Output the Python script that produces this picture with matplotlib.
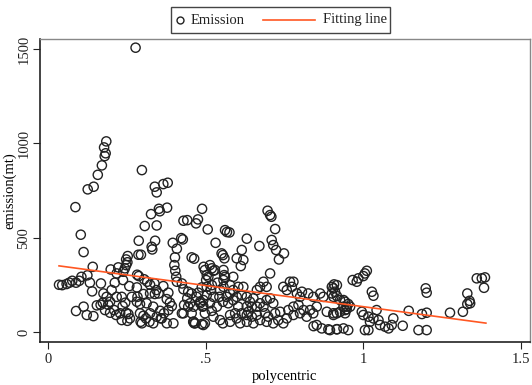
"""
Scatter of emission against polycentric index with fitted line (Stata look).
"""

import numpy as np
import matplotlib.pyplot as plt
from matplotlib.patches import Rectangle
from matplotlib.lines import Line2D

# ---- data ----
polycentric = [
    0.277, 0.184, 0.177, 0.182, 0.179, 0.170, 0.157, 0.144, 0.125, 0.297,
    0.338, 0.365, 0.379, 0.344, 0.086, 0.326, 0.351, 0.354, 0.377, 0.488,
    0.429, 0.441, 0.475, 0.469, 0.506, 0.306, 0.344, 0.103, 0.287, 0.339,
    0.328, 0.330, 0.395, 0.408, 0.422, 0.427, 0.112, 0.286, 0.294, 0.252,
    0.247, 0.251, 0.247, 0.243, 0.238, 0.402, 0.400, 0.403, 0.406, 0.408,
    0.455, 0.463, 0.141, 0.124, 0.105, 0.098, 0.088, 0.076, 0.067, 0.058,
    0.044, 0.034, 0.132, 0.139, 0.167, 0.198, 0.222, 0.217, 0.211, 0.237,
    0.257, 0.281, 0.282, 0.287, 0.304, 0.314, 0.323, 0.337, 0.343, 0.323,
    0.302, 0.283, 0.338, 0.350, 0.233, 0.244, 0.236, 0.365, 0.381, 0.376,
    0.386, 0.392, 0.381, 0.367, 0.360, 0.376, 0.397, 0.424, 0.444, 0.471,
    0.482, 0.492, 0.503, 0.490, 0.460, 0.463, 0.492, 0.088, 0.112, 0.122,
    0.143, 0.154, 0.166, 0.173, 0.190, 0.180, 0.196, 0.209, 0.215, 0.228,
    0.233, 0.247, 0.254, 0.259, 0.251, 0.291, 0.291, 0.302, 0.293, 0.297,
    0.310, 0.323, 0.321, 0.333, 0.344, 0.355, 0.357,
    0.696, 0.704, 0.708, 0.561, 0.575, 0.567, 0.531, 0.630, 0.720, 0.709,
    0.714, 0.723, 0.732, 0.748, 0.670, 0.614, 0.598, 0.619, 0.611, 0.550,
    0.559, 0.554, 0.493, 0.497, 0.503, 0.513, 0.519, 0.524, 0.529, 0.501,
    0.508, 0.556, 0.558, 0.556, 0.561, 0.587, 0.503, 0.516, 0.524, 0.513,
    0.519, 0.535, 0.524, 0.492, 0.497, 0.545, 0.556, 0.577, 0.587, 0.603,
    0.619, 0.614, 0.598, 0.577, 0.566, 0.630, 0.640, 0.651, 0.630, 0.646,
    0.635, 0.662, 0.672, 0.683, 0.693, 0.704, 0.714, 0.662, 0.672, 0.683,
    0.693, 0.704, 0.746, 0.757, 0.767, 0.778, 0.773, 0.789, 0.799, 0.805,
    0.825, 0.841, 0.852, 0.831, 0.841, 0.810, 0.794, 0.545, 0.554, 0.577,
    0.598, 0.609, 0.630, 0.651, 0.672, 0.693, 0.714, 0.730, 0.746, 0.757,
    0.778, 0.799, 0.820, 0.450, 0.461, 0.482, 0.455, 0.466, 0.487, 0.497,
    0.461, 0.429, 0.842, 0.852, 0.868, 0.889, 0.916, 0.937, 0.900, 0.907,
    0.910, 0.916, 0.937, 0.947, 0.952, 0.942, 0.884, 0.905, 0.926, 0.863,
    0.873,
    1.011, 1.005, 1.000, 0.984, 0.966, 0.979, 0.916, 0.905, 0.900, 0.905,
    1.027, 1.032, 1.198, 1.201, 1.360, 1.376, 1.386, 1.383, 1.330, 1.337,
    1.339, 1.330, 0.926, 0.942, 0.937, 0.947, 0.958, 0.916, 0.942, 0.905,
    0.995, 1.000, 1.016, 1.032, 1.048, 1.042, 1.095, 1.021, 1.053, 1.069,
    1.080, 1.090, 1.125, 1.144, 1.186, 1.201, 1.275, 1.316, 1.175, 1.201,
    0.894, 0.916, 0.952, 1.005, 1.016,
    0.424, 0.429, 0.441, 0.455, 0.444, 0.431, 0.476, 0.487, 0.519, 0.537,
    0.543, 0.554, 0.571, 0.587, 0.603, 0.614, 0.593, 0.577, 0.630, 0.646,
    0.662, 0.688, 0.698, 0.720, 0.736, 0.762, 0.778,
    0.175, 0.185, 0.201, 0.217, 0.196, 0.265, 0.281, 0.312, 0.333,
]
emission = [
    1507, 1011, 979, 948, 933, 884, 834, 771, 757, 859,
    771, 785, 792, 741, 663, 626, 654, 641, 660, 654,
    591, 594, 598, 577, 545, 563, 566, 517, 485, 485,
    453, 439, 474, 443, 499, 492, 425, 411, 411, 404,
    386, 371, 356, 339, 321, 397, 356, 326, 294, 268,
    397, 390, 347, 302, 294, 273, 263, 273, 263, 256,
    250, 252, 263, 217, 259, 333, 344, 312, 263, 277,
    245, 238, 305, 298, 281, 268, 252, 259, 224, 206,
    203, 188, 203, 206, 188, 157, 139, 245, 210, 176,
    157, 139, 118, 101, 74, 48, 48, 101, 215, 188,
    154, 171, 197, 136, 56, 48, 39, 113, 136, 92,
    86, 143, 146, 157, 146, 118, 104, 118, 92, 101,
    65, 104, 97, 74, 61, 150, 101, 88, 56, 48,
    74, 101, 56, 48, 83, 114, 74,
    644, 621, 612, 541, 529, 531, 474, 496, 547, 489,
    462, 436, 386, 418, 457, 436, 392, 383, 351, 418,
    392, 409, 347, 330, 303, 356, 339, 326, 330, 277,
    294, 330, 303, 277, 294, 294, 241, 224, 188, 154,
    114, 136, 83, 139, 101, 224, 241, 250, 224, 241,
    241, 197, 188, 206, 188, 188, 162, 180, 136, 136,
    109, 136, 154, 136, 171, 180, 154, 224, 241, 268,
    241, 312, 241, 224, 268, 268, 241, 206, 188, 215,
    206, 188, 136, 118, 101, 118, 145, 65, 48, 56,
    74, 48, 56, 48, 65, 56, 48, 65, 48, 74,
    92, 101, 83, 154, 136, 162, 101, 48, 44, 48,
    56, 101, 33, 39, 21, 16, 17, 21, 241, 254,
    215, 192, 171, 136, 150, 118, 109, 101, 109, 206,
    188,
    326, 312, 298, 286, 277, 268, 250, 233, 206, 188,
    215, 194, 233, 210, 286, 286, 291, 236, 206, 167,
    154, 150, 171, 162, 136, 122, 136, 101, 101, 92,
    109, 92, 83, 74, 65, 118, 74, 56, 39, 30,
    21, 39, 35, 114, 97, 104, 104, 109, 12, 12,
    12, 16, 12, 12, 12,
    259, 228, 180, 206, 136, 145, 210, 238, 250, 263,
    188, 162, 154, 171, 136, 101, 101, 92, 92, 83,
    92, 101, 83, 101, 109, 118, 136,
    206, 188, 224, 188, 162, 188, 162, 154, 136,
]

# fitted line, end points
fit_x = [0.034, 1.389]
fit_y = [352, 49]

x_ticks = [0, 0.5, 1, 1.5]
x_tick_labels = ['0', '.5', '1', '1.5']
y_ticks = [0, 500, 1000, 1500]
y_tick_labels = ['0', '500', '1000', '1500']

W, H = 532, 385
dot_color = '#222222'
line_color = '#ff5722'

plt.rcParams['font.family'] = ['Liberation Serif', 'DejaVu Serif']

fig = plt.figure(figsize=(W / 100, H / 100), dpi=100)
ax = fig.add_axes([39.5 / W, 1 - 342 / H, 490.5 / W, 303 / H])

ax.scatter(polycentric, emission, s=44, facecolors='none', edgecolors=dot_color,
           linewidths=1.0, zorder=2)
ax.plot(fit_x, fit_y, color=line_color, linewidth=1.2, zorder=3)

ax.set_xlim(-0.028, 1.529)
ax.set_ylim(-51, 1553)

ax.set_xticks(x_ticks)
ax.set_xticklabels(x_tick_labels)
ax.set_yticks(y_ticks)
ax.set_yticklabels(y_tick_labels, rotation=90, va='center')
ax.tick_params(direction='out', length=5, width=0.8, labelsize=10.5, colors=dot_color)
ax.tick_params(axis='y', pad=1.5)
ax.tick_params(axis='x', pad=3)

for side in ['left', 'bottom']:
    ax.spines[side].set_color(dot_color)
    ax.spines[side].set_linewidth(1.2)
for side in ['top', 'right']:
    ax.spines[side].set_color('#888888')
    ax.spines[side].set_linewidth(1.0)

ax.set_xlabel('polycentric', fontsize=10.5, labelpad=3)
ax.set_ylabel('emission(mt)', fontsize=10.5, labelpad=1)

# legend drawn by hand so the marker key stays narrow, as in the Stata output
def fx(px):
    return px / W

def fy(py):
    return 1 - py / H

fig.patches.append(Rectangle((fx(171), fy(33)), fx(390) - fx(171), fy(7) - fy(33),
                             transform=fig.transFigure, fill=False,
                             edgecolor='#444444', linewidth=1.0))
fig.lines.append(Line2D([fx(180)], [fy(20)], transform=fig.transFigure, marker='o',
                        markersize=5.0, markerfacecolor='none',
                        markeredgecolor=dot_color, markeredgewidth=1.0,
                        linestyle='none'))
fig.text(fx(191), fy(20), 'Emission', fontsize=10.5, va='center', ha='left',
         color=dot_color)
fig.lines.append(Line2D([fx(263), fx(315)], [fy(20), fy(20)], transform=fig.transFigure,
                        color=line_color, linewidth=1.2))
fig.text(fx(323), fy(20), 'Fitting line', fontsize=10.5, va='center', ha='left',
         color=dot_color)

fig.savefig('out.png', dpi=100)
